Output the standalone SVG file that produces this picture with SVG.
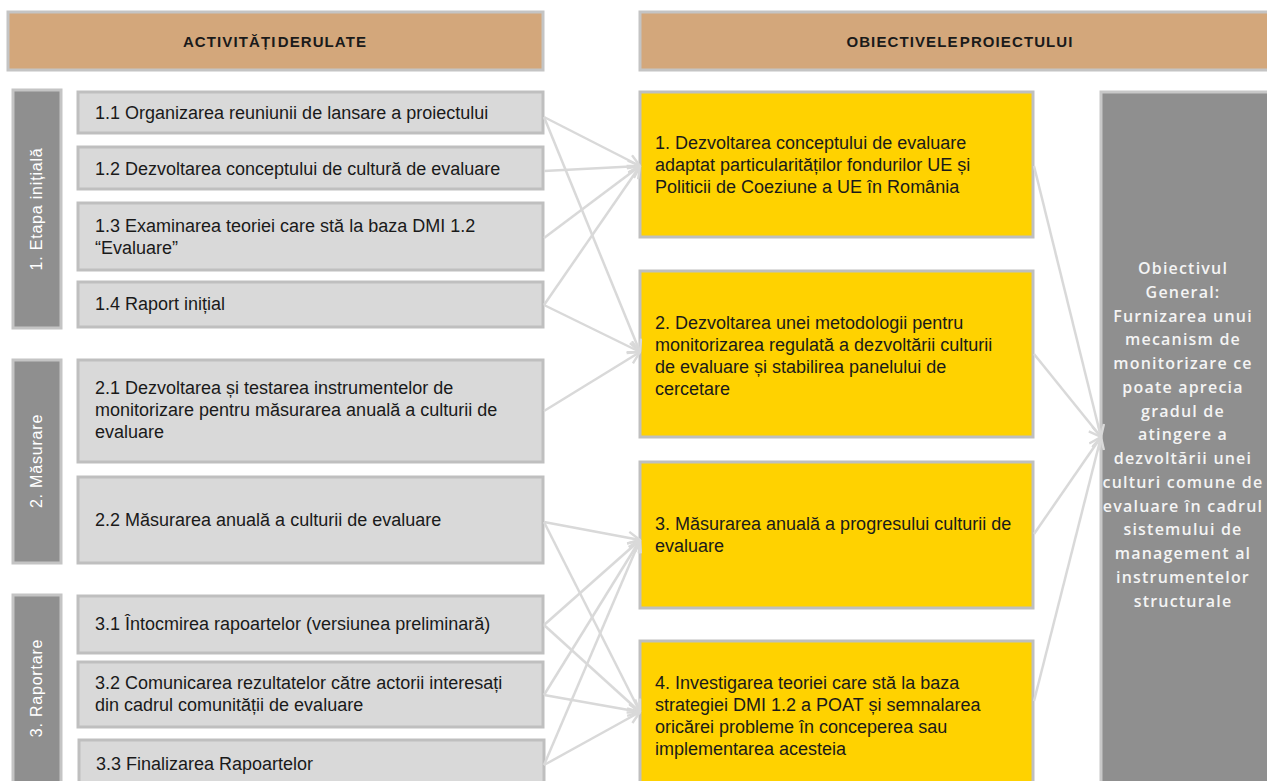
<svg xmlns="http://www.w3.org/2000/svg" width="1267" height="781" viewBox="0 0 1267 781">
<style>
.hdr{fill:#d3a77b;stroke:#c4c4c4;stroke-width:3}
.hdrt{font-family:"Liberation Sans",Arial,sans-serif;font-size:15px;font-weight:bold;letter-spacing:1.1px;word-spacing:-4px;fill:#1a1a1a;text-anchor:middle}
.phase{fill:#8f8f8f;stroke:#c4c4c4;stroke-width:3}
.phaset{font-family:"Liberation Sans",Arial,sans-serif;font-size:16px;letter-spacing:0.8px;fill:#ffffff;text-anchor:middle}
.act{fill:#d9d9d9;stroke:#bfbfbf;stroke-width:3}
.obj{fill:#ffd200;stroke:#bfbfbf;stroke-width:3}
.gen{fill:#8f8f8f;stroke:#c8c8c8;stroke-width:3}
.t{font-family:"Liberation Sans",Arial,sans-serif;font-size:18px;fill:#1a1a1a}
.gt{font-family:"Open Sans","DejaVu Sans",sans-serif;font-size:16px;font-weight:600;letter-spacing:1.2px;fill:#f4f4f4;text-anchor:middle}
.c{fill:none;stroke:#d9d9d9;stroke-width:2.5;marker-end:url(#ah)}
</style>
<defs>
<marker id="ah" viewBox="0 0 14 14" refX="13" refY="7" markerWidth="14" markerHeight="14" markerUnits="userSpaceOnUse" orient="auto">
<path d="M1,1 L13,7 L1,13" fill="none" stroke="#d9d9d9" stroke-width="2.4"/>
</marker>
</defs>
<rect width="1267" height="781" fill="#ffffff"/>

<g id="header-activitati"><rect class="hdr" x="8" y="12" width="535" height="58"/><text class="hdrt" x="275" y="47">ACTIVITĂȚI DERULATE</text></g>
<g id="header-obiective"><rect class="hdr" x="640" y="12" width="640" height="58"/><text class="hdrt" x="960" y="47">OBIECTIVELE PROIECTULUI</text></g>

<g id="phase-1"><rect class="phase" x="13" y="90" width="48" height="238"/><text class="phaset" transform="translate(42,209) rotate(-90)">1. Etapa inițială</text></g>
<g id="phase-2"><rect class="phase" x="13" y="360" width="48" height="203"/><text class="phaset" transform="translate(42,461) rotate(-90)">2. Măsurare</text></g>
<g id="phase-3"><rect class="phase" x="13" y="595" width="48" height="200"/><text class="phaset" transform="translate(42,688) rotate(-90)">3. Raportare</text></g>

<g id="act-1-1"><rect class="act" x="78" y="92" width="465" height="41"/><text class="t" x="95" y="119">1.1 Organizarea reuniunii de lansare a proiectului</text></g>
<g id="act-1-2"><rect class="act" x="78" y="147" width="465" height="42"/><text class="t" x="95" y="175">1.2 Dezvoltarea conceptului de cultură de evaluare</text></g>
<g id="act-1-3"><rect class="act" x="78" y="203" width="465" height="67"/><text class="t" x="95" y="232"><tspan x="95">1.3 Examinarea teoriei care stă la baza DMI  1.2</tspan><tspan x="95" dy="22">“Evaluare”</tspan></text></g>
<g id="act-1-4"><rect class="act" x="78" y="282" width="465" height="45"/><text class="t" x="95" y="310">1.4 Raport inițial</text></g>
<g id="act-2-1"><rect class="act" x="78" y="360" width="465" height="102"/><text class="t" x="95" y="394"><tspan x="95">2.1 Dezvoltarea și testarea instrumentelor de</tspan><tspan x="95" dy="22">monitorizare pentru măsurarea anuală a culturii de</tspan><tspan x="95" dy="22">evaluare</tspan></text></g>
<g id="act-2-2"><rect class="act" x="78" y="477" width="465" height="86"/><text class="t" x="95" y="526">2.2 Măsurarea anuală a culturii de evaluare</text></g>
<g id="act-3-1"><rect class="act" x="78" y="596" width="465" height="57"/><text class="t" x="95" y="630">3.1 Întocmirea rapoartelor (versiunea preliminară)</text></g>
<g id="act-3-2"><rect class="act" x="78" y="662" width="465" height="65"/><text class="t" x="95" y="689"><tspan x="95">3.2 Comunicarea rezultatelor către actorii interesați</tspan><tspan x="95" dy="22">din cadrul comunității de evaluare</tspan></text></g>
<g id="act-3-3"><rect class="act" x="79" y="740" width="465" height="60"/><text class="t" x="96" y="770">3.3 Finalizarea Rapoartelor</text></g>

<g id="obj-1"><rect class="obj" x="640" y="92" width="393" height="145"/><text class="t" x="655" y="149"><tspan x="655">1. Dezvoltarea conceptului de evaluare</tspan><tspan x="655" dy="22">adaptat particularităților fondurilor UE și</tspan><tspan x="655" dy="22">Politicii de Coeziune a UE în România</tspan></text></g>
<g id="obj-2"><rect class="obj" x="640" y="271" width="393" height="166"/><text class="t" x="655" y="329"><tspan x="655">2. Dezvoltarea unei metodologii pentru</tspan><tspan x="655" dy="22">monitorizarea regulată a dezvoltării culturii</tspan><tspan x="655" dy="22">de evaluare și stabilirea panelului de</tspan><tspan x="655" dy="22">cercetare</tspan></text></g>
<g id="obj-3"><rect class="obj" x="640" y="462" width="393" height="146"/><text class="t" x="655" y="530"><tspan x="655">3. Măsurarea anuală a progresului culturii de</tspan><tspan x="655" dy="22">evaluare</tspan></text></g>
<g id="obj-4"><rect class="obj" x="640" y="641" width="393" height="160"/><text class="t" x="655" y="689"><tspan x="655">4. Investigarea teoriei care stă la baza</tspan><tspan x="655" dy="22">strategiei DMI 1.2 a POAT și semnalarea</tspan><tspan x="655" dy="22">oricărei probleme în conceperea sau</tspan><tspan x="655" dy="22">implementarea acesteia</tspan></text></g>

<g id="obiectiv-general"><rect class="gen" x="1101" y="92" width="180" height="710"/><text class="gt" x="1183" y="274"><tspan x="1183">Obiectivul</tspan><tspan x="1183" dy="23.75">General:</tspan><tspan x="1183" dy="23.75">Furnizarea unui</tspan><tspan x="1183" dy="23.75">mecanism de</tspan><tspan x="1183" dy="23.75">monitorizare ce</tspan><tspan x="1183" dy="23.75">poate aprecia</tspan><tspan x="1183" dy="23.75">gradul de</tspan><tspan x="1183" dy="23.75">atingere a</tspan><tspan x="1183" dy="23.75">dezvoltării unei</tspan><tspan x="1183" dy="23.75">culturi comune de</tspan><tspan x="1183" dy="23.75">evaluare în cadrul</tspan><tspan x="1183" dy="23.75">sistemului de</tspan><tspan x="1183" dy="23.75">management al</tspan><tspan x="1183" dy="23.75">instrumentelor</tspan><tspan x="1183" dy="23.75">structurale</tspan></text></g>

<g id="connectors">
<line class="c" x1="544" y1="117" x2="640" y2="166"/>
<line class="c" x1="544" y1="117" x2="640" y2="352"/>
<line class="c" x1="544" y1="171" x2="640" y2="166"/>
<line class="c" x1="544" y1="238" x2="640" y2="166"/>
<line class="c" x1="544" y1="305" x2="640" y2="166"/>
<line class="c" x1="544" y1="305" x2="640" y2="352"/>
<line class="c" x1="544" y1="411" x2="640" y2="352"/>
<line class="c" x1="544" y1="522" x2="640" y2="540"/>
<line class="c" x1="544" y1="522" x2="640" y2="712"/>
<line class="c" x1="544" y1="625" x2="640" y2="540"/>
<line class="c" x1="544" y1="625" x2="640" y2="712"/>
<line class="c" x1="544" y1="695" x2="640" y2="540"/>
<line class="c" x1="544" y1="695" x2="640" y2="712"/>
<line class="c" x1="544" y1="765" x2="640" y2="540"/>
<line class="c" x1="544" y1="765" x2="640" y2="712"/>
<line class="c" x1="1034" y1="166" x2="1101" y2="437"/>
<line class="c" x1="1034" y1="354" x2="1101" y2="437"/>
<line class="c" x1="1034" y1="534" x2="1101" y2="437"/>
<line class="c" x1="1034" y1="701" x2="1101" y2="437"/>
</g>
</svg>
